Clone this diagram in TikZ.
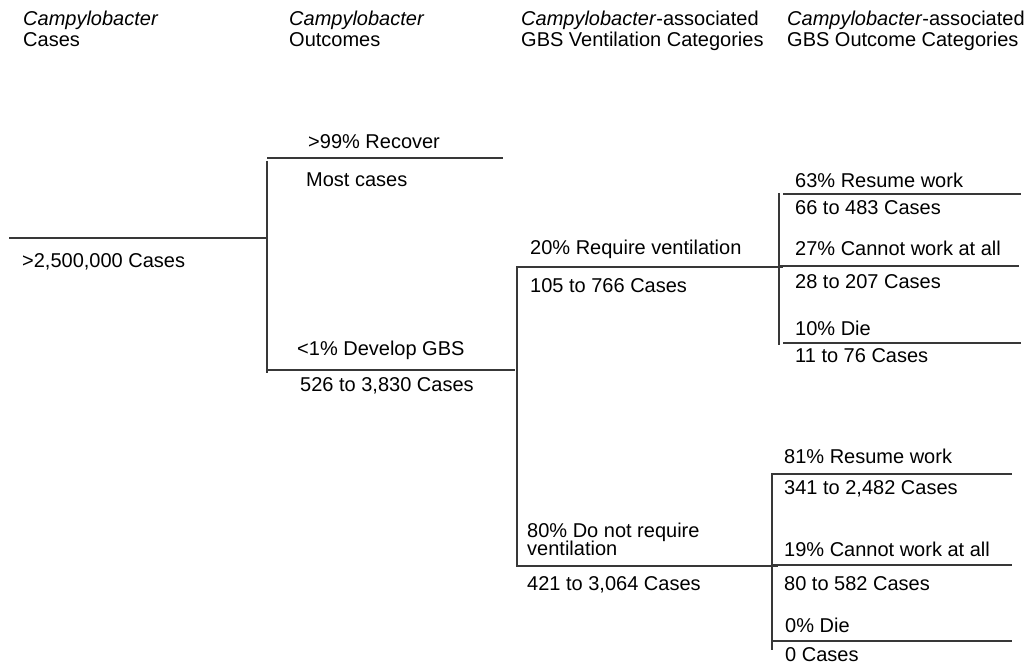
\documentclass[tikz,border=0pt]{standalone}
\usepackage{fontspec}
\setmainfont{Liberation Sans}
\begin{document}
\begin{tikzpicture}[x=1pt,y=-1pt,
  lbl/.style={anchor=base west,inner sep=0pt,font=\fontsize{20}{20}\selectfont},
  hdr/.style={anchor=base west,inner sep=0pt,font=\fontsize{20}{20}\selectfont},
  ln/.style={draw=black!78,line width=1.1pt}]
\useasboundingbox (0,0) rectangle (1028,666);
% headers
\node[hdr] (h1a) at (23,26) {\textit{Campylobacter}};
\node[hdr] (h1b) at (23,47) {Cases};
\node[hdr] (h2a) at (289,26) {\textit{Campylobacter}};
\node[hdr] (h2b) at (289,47) {Outcomes};
\node[hdr] (h3a) at (521,26) {\textit{Campylobacter}-associated};
\node[hdr] (h3b) at (521,47) {GBS Ventilation Categories};
\node[hdr] (h4a) at (787,26) {\textit{Campylobacter}-associated};
\node[hdr] (h4b) at (787,47) {GBS Outcome Categories};
% junction coordinates
\coordinate (r0) at (9,238);
\coordinate (r1) at (267,238);
\coordinate (v1t) at (267,161);
\coordinate (v1b) at (267,373);
\coordinate (t0) at (267,158);
\coordinate (t1) at (503,158);
\coordinate (g0) at (267,370);
\coordinate (g1) at (515,370);
\coordinate (v2t) at (517,266);
\coordinate (v2b) at (517,567);
\coordinate (a0) at (517,267);
\coordinate (a1) at (783,267);
\coordinate (b0) at (517,566);
\coordinate (b1) at (778,566);
\coordinate (v3t) at (779,193);
\coordinate (v3b) at (779,345);
\coordinate (c10) at (783,194);
\coordinate (c11) at (1021,194);
\coordinate (c20) at (779,266);
\coordinate (c21) at (1019,266);
\coordinate (c30) at (783,343);
\coordinate (c31) at (1021,343);
\coordinate (v4t) at (772,473);
\coordinate (v4b) at (772,650);
\coordinate (d10) at (772,474);
\coordinate (d11) at (1012,474);
\coordinate (d20) at (772,565);
\coordinate (d21) at (1012,565);
\coordinate (d30) at (772,641);
\coordinate (d31) at (1012,641);
% connectors
\draw[ln] (r0) -- (r1);
\draw[ln] (v1t) -- (v1b);
\draw[ln] (t0) -- (t1);
\draw[ln] (g0) -- (g1);
\draw[ln] (v2t) -- (v2b);
\draw[ln] (a0) -- (a1);
\draw[ln] (b0) -- (b1);
\draw[ln] (v3t) -- (v3b);
\draw[ln] (c10) -- (c11);
\draw[ln] (c20) -- (c21);
\draw[ln] (c30) -- (c31);
\draw[ln] (v4t) -- (v4b);
\draw[ln] (d10) -- (d11);
\draw[ln] (d20) -- (d21);
\draw[ln] (d30) -- (d31);
% labels
\node[lbl] (root) at (22,267) {>2,500,000 Cases};
\node[lbl] (rec) at (308,149) {>99\% Recover};
\node[lbl] (most) at (306,186) {Most cases};
\node[lbl] (gbs) at (297,355) {<1\% Develop GBS};
\node[lbl] (gbsn) at (300,391) {526 to 3,830 Cases};
\node[lbl] (vent) at (530,254) {20\% Require ventilation};
\node[lbl] (ventn) at (530,292) {105 to 766 Cases};
\node[lbl] (nv1) at (527,537) {80\% Do not require};
\node[lbl] (nv2) at (527,555) {ventilation};
\node[lbl] (nvn) at (527,590) {421 to 3,064 Cases};
\node[lbl] (o1) at (795,187) {63\% Resume work};
\node[lbl] (o1n) at (795,214) {66 to 483 Cases};
\node[lbl] (o2) at (795,255) {27\% Cannot work at all};
\node[lbl] (o2n) at (795,288) {28 to 207 Cases};
\node[lbl] (o3) at (795,335) {10\% Die};
\node[lbl] (o3n) at (795,362) {11 to 76 Cases};
\node[lbl] (p1) at (784,463) {81\% Resume work};
\node[lbl] (p1n) at (784,494) {341 to 2,482 Cases};
\node[lbl] (p2) at (784,556) {19\% Cannot work at all};
\node[lbl] (p2n) at (784,590) {80 to 582 Cases};
\node[lbl] (p3) at (785,632) {0\% Die};
\node[lbl] (p3n) at (785,661) {0 Cases};
\end{tikzpicture}
\end{document}
